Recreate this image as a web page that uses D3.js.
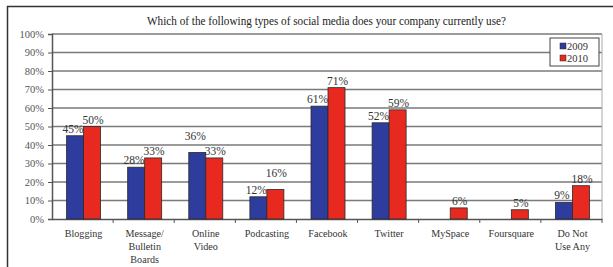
<!DOCTYPE html>
<html>
<head>
<meta charset="utf-8">
<script src="https://cdn.jsdelivr.net/npm/d3@7"></script>
<style>
  body { margin: 0; background: #fff; }
</style>
</head>
<body>
<div id="dataviz_area"></div>
<script>
var categories = [["Blogging"], ["Message/", "Bulletin", "Boards"], ["Online", "Video"], ["Podcasting"],
  ["Facebook"], ["Twitter"], ["MySpace"], ["Foursquare"], ["Do Not", "Use Any"]];
var series = ["2009", "2010"];
var values2009 = [45, 28, 36, 12, 61, 52, null, null, 9];
var values2010 = [50, 33, 33, 16, 71, 59, 6, 5, 18];
var yTicks = [0, 10, 20, 30, 40, 50, 60, 70, 80, 90, 100];
var colors = ["#2e3c9e", "#e8291f"];
var serif = "Liberation Serif, Times New Roman, serif";

var margin = {top: 34, right: 11, bottom: 48, left: 52};
var W = 613, H = 267;
var width = W - margin.left - margin.right;
var height = H - margin.top - margin.bottom;

var root = d3.select("#dataviz_area").append("svg")
    .attr("width", W).attr("height", H)
    .attr("font-family", serif);

// outer frame: top and left only
root.append("line").attr("x1", 7).attr("x2", W).attr("y1", 6.5).attr("y2", 6.5)
    .attr("stroke", "#333").attr("stroke-width", 1.5);
root.append("line").attr("x1", 7.5).attr("x2", 7.5).attr("y1", 6).attr("y2", H)
    .attr("stroke", "#333").attr("stroke-width", 1.5);

root.append("text")
    .attr("x", 147).attr("y", 25)
    .attr("font-size", 12.5)
    .attr("fill", "#222")
    .attr("textLength", 359)
    .attr("lengthAdjust", "spacingAndGlyphs")
    .text("Which of the following types of social media does your company currently use?");

var svg = root.append("g")
    .attr("transform", "translate(" + margin.left + "," + margin.top + ")");

var idx = d3.range(categories.length);
var x = d3.scaleBand().domain(idx).range([0, width]);
var x1 = d3.scaleBand().domain(series).range([0, 34]);
var y = d3.scaleLinear().domain([0, 100]).range([height, 0]);

// gridlines
svg.selectAll(".grid")
    .data(yTicks.filter(function(d) { return d > 0; }))
    .enter().append("line")
    .attr("x1", 0).attr("x2", width)
    .attr("y1", function(d) { return y(d); })
    .attr("y2", function(d) { return y(d); })
    .attr("stroke", "#7a7a7a").attr("stroke-width", 1.6);

// right border of plot
svg.append("line").attr("x1", width).attr("x2", width).attr("y1", 0).attr("y2", height)
    .attr("stroke", "#aaa").attr("stroke-width", 1);

// y axis
var yAxis = svg.append("g")
    .call(d3.axisLeft(y).tickValues(yTicks).tickSize(4).tickFormat(function(d) { return d + "%"; }));
yAxis.attr("font-family", serif);
yAxis.select(".domain").attr("stroke", "#555").attr("stroke-width", 1.5);
yAxis.selectAll(".tick line").attr("stroke", "#555");
yAxis.selectAll("text").attr("font-size", 10.5).attr("fill", "#555").attr("x", -8);

// x axis
var xAxis = svg.append("g").attr("transform", "translate(0," + height + ")")
    .call(d3.axisBottom(x).tickValues([]).tickSizeOuter(0));
xAxis.select(".domain").attr("stroke", "#555").attr("stroke-width", 1.5);
xAxis.selectAll(".sep")
    .data(idx.slice(1).concat([categories.length]))
    .enter().append("line")
    .attr("x1", function(d) { return d * x.bandwidth(); })
    .attr("x2", function(d) { return d * x.bandwidth(); })
    .attr("y1", 0).attr("y2", 4)
    .attr("stroke", "#555");

// bars
var rows = idx.map(function(i) {
  return [{s: "2009", v: values2009[i], o: values2010[i]}, {s: "2010", v: values2010[i], o: values2009[i]}];
});
var groups = svg.selectAll(".grp").data(rows).enter().append("g")
    .attr("transform", function(d, i) {
      return "translate(" + (x(i) + (x.bandwidth() - 34) / 2 + 1) + ",0)";
    });

groups.selectAll("rect")
    .data(function(d) { return d.filter(function(e) { return e.v != null; }); })
    .enter().append("rect")
    .attr("x", function(d) { return x1(d.s); })
    .attr("y", function(d) { return y(d.v); })
    .attr("width", x1.bandwidth())
    .attr("height", function(d) { return height - y(d.v); })
    .attr("fill", function(d) { return d.s === "2009" ? colors[0] : colors[1]; })
    .attr("stroke", "#2a2a2a").attr("stroke-width", 0.8);

// value labels; lift the taller one when two labels would collide
groups.selectAll(".lbl")
    .data(function(d) { return d.filter(function(e) { return e.v != null; }); })
    .enter().append("text")
    .attr("x", function(d) { return x1(d.s) + x1.bandwidth() / 2 + (d.s === "2009" ? -2 : 1); })
    .attr("y", function(d) {
      var lift = (d.o != null && d.v > d.o && d.v - d.o < 5) ? 9 : 0;
      return y(d.v) - 3 - lift;
    })
    .attr("text-anchor", "middle")
    .attr("font-size", 11.5)
    .attr("fill", "#333")
    .text(function(d) { return d.v + "%"; });

// category labels
svg.selectAll(".cat").data(categories).enter().append("text")
    .attr("transform", function(d, i) { return "translate(" + (x(i) + x.bandwidth() / 2 + 1) + "," + (height + 18) + ") scale(0.92,1)"; })
    .attr("text-anchor", "middle")
    .attr("font-size", 11)
    .attr("fill", "#333")
    .selectAll("tspan").data(function(d) { return d; }).enter().append("tspan")
    .attr("x", 0)
    .attr("dy", function(d, j) { return j === 0 ? 0 : 13; })
    .text(function(d) { return d; });

// legend
var legend = root.append("g").attr("transform", "translate(550,38)");
legend.append("rect").attr("width", 49).attr("height", 28)
    .attr("fill", "#fff").attr("stroke", "#444").attr("stroke-width", 1);
series.forEach(function(s, i) {
  legend.append("rect").attr("x", 10).attr("y", 5 + i * 12).attr("width", 6).attr("height", 6)
      .attr("fill", colors[i]).attr("stroke", "#2a2a2a").attr("stroke-width", 0.5);
  legend.append("text").attr("x", 17).attr("y", 12 + i * 12)
      .attr("font-size", 10.5).attr("fill", "#333").text(s);
});
</script>
</body>
</html>
